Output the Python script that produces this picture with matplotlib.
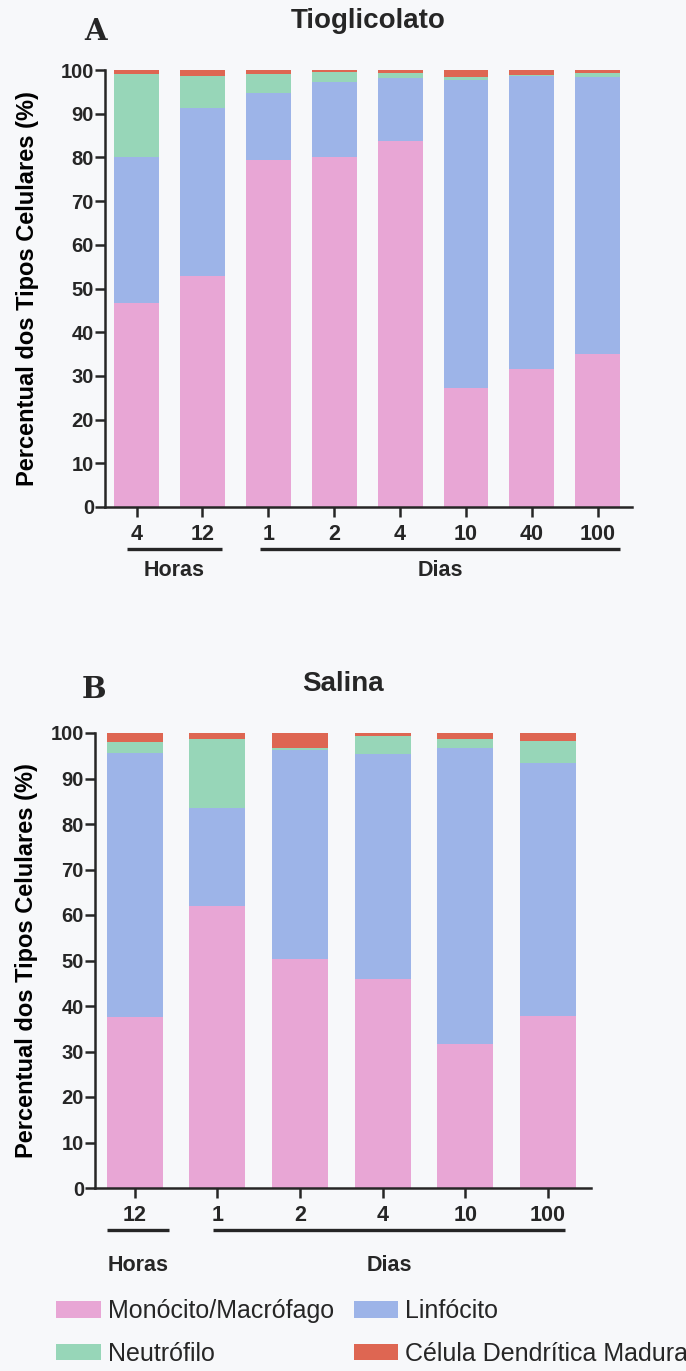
import numpy as np
import matplotlib.pyplot as plt
from matplotlib.transforms import blended_transform_factory

# %% Data ------------------------------------------------------------
series = ['Monócito/Macrófago', 'Linfócito', 'Neutrófilo', 'Célula Dendrítica Madura']
colors = ['#E8A6D5', '#9DB4E8', '#97D6B8', '#DE6652']

tio_labels = ['4', '12', '1', '2', '4', '10', '40', '100']
tio_mono = [46.7, 52.8, 79.4, 80.1, 83.8, 27.2, 31.5, 35.0]
tio_linf = [33.4, 38.6, 15.3, 17.2, 14.4, 70.5, 67.2, 63.5]
tio_neut = [19.0, 7.2, 4.4, 2.3, 1.0, 0.6, 0.1, 0.7]
tio_dc = [0.9, 1.4, 0.9, 0.4, 0.8, 1.7, 1.2, 0.8]
tio_groups = [('Horas', 0, 1), ('Dias', 2, 7)]

sal_labels = ['12', '1', '2', '4', '10', '100']
sal_mono = [37.5, 61.9, 50.3, 45.9, 31.6, 37.7]
sal_linf = [58.0, 21.7, 45.9, 49.4, 65.2, 55.6]
sal_neut = [2.6, 15.0, 0.6, 4.1, 1.8, 4.9]
sal_dc = [1.9, 1.4, 3.2, 0.6, 1.4, 1.8]
sal_groups = [('Horas', 0, 0), ('Dias', 1, 5)]

# %% Style -----------------------------------------------------------
BG = '#F7F8FA'
INK = '#262626'
plt.rcParams['font.family'] = ['Liberation Sans', 'DejaVu Sans']
plt.rcParams['text.color'] = INK

W, H = 686, 1371
fig = plt.figure(figsize=(W / 100, H / 100), dpi=100, facecolor=BG)


def px_axes(left, right, bottom, top):
    return fig.add_axes([left / W, 1 - bottom / H, (right - left) / W, (bottom - top) / H])


def panel(ax, labels, stacks, groups, title, letter, letter_xy, ext, line_y, text_y):
    x = np.arange(len(labels))
    base = np.zeros(len(labels))
    bars = []
    for vals, name, c in zip(stacks, series, colors):
        b = ax.bar(x, vals, 0.68, bottom=base, color=c, label=name, linewidth=0)
        bars.append(b)
        base = base + np.array(vals)
    ax.set_facecolor(BG)
    ax.set_xlim(-0.48, len(labels) - 0.48)
    ax.set_ylim(0, 100)
    ax.set_yticks(np.arange(0, 101, 10))
    ax.set_xticks(x, labels)
    for s in ['top', 'right']:
        ax.spines[s].set_visible(False)
    for s in ['left', 'bottom']:
        ax.spines[s].set_linewidth(1.8)
        ax.spines[s].set_color(INK)
    ax.tick_params(axis='y', length=7, width=1.8, pad=1, labelsize=14.5, colors=INK)
    ax.tick_params(axis='x', length=7, width=1.8, pad=5, labelsize=15.5, colors=INK)
    for t in ax.get_xticklabels() + ax.get_yticklabels():
        t.set_fontweight('bold')
    ax.set_ylabel('Percentual dos Tipos Celulares (%)', fontsize=17, fontweight='bold')
    ax.set_title(title, fontsize=20, fontweight='bold', pad=30)
    fig.text(letter_xy[0] / W, 1 - letter_xy[1] / H, letter, family='DejaVu Serif',
             fontweight='bold', fontsize=21, ha='center', va='center', color=INK)
    tr = blended_transform_factory(ax.transData, ax.transAxes)
    for (name, i0, i1), (a, b) in zip(groups, ext):
        x0, x1 = i0 + a, i1 + b
        ax.plot([x0, x1], [line_y, line_y], color=INK, lw=2.4, transform=tr,
                clip_on=False, solid_capstyle='butt')
        ax.text((x0 + x1) / 2, text_y, name, transform=tr, ha='center', va='center',
                fontsize=15.5, fontweight='bold')
    return bars


axA = px_axes(105, 632, 507, 70)
barsA = panel(axA, tio_labels, [tio_mono, tio_linf, tio_neut, tio_dc], tio_groups,
              'Tioglicolato', 'A', (96, 31), [(-0.15, 0.29), (-0.13, 0.34)], -0.096, -0.146)
axA.yaxis.set_label_coords(-0.125, 0.5)

axB = px_axes(95, 591, 1188, 733)
panel(axB, sal_labels, [sal_mono, sal_linf, sal_neut, sal_dc], sal_groups,
      'Salina', 'B', (94, 690), [(-0.33, 0.41), (-0.05, 0.21)], -0.093, -0.17)
axB.yaxis.set_label_coords(-0.115, 0.5)

handles = [barsA[0], barsA[2], barsA[1], barsA[3]]
names = [series[0], series[2], series[1], series[3]]
fig.legend(handles, names, ncol=2, loc='upper left', bbox_to_anchor=(56 / W, 1 - 1299 / H),
           frameon=False, fontsize=18, handlelength=1.78, handleheight=0.65,
           handletextpad=0.28, columnspacing=0.8, labelspacing=0.75, borderpad=0,
           borderaxespad=0)

fig.savefig('out.png', dpi=100, facecolor=BG)
